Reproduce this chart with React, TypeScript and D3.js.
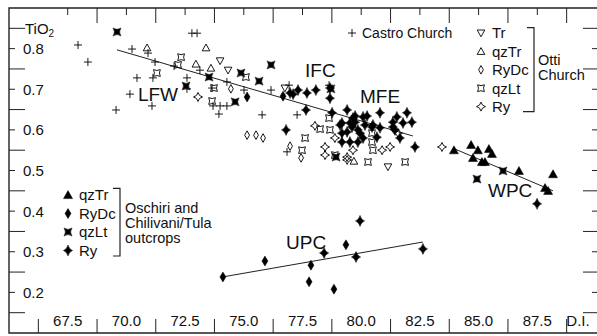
import React from "react";
import * as d3 from "d3";

const W = 597;
const H = 336;

// [D.I., TiO2] pairs
const castroChurch: [number, number][] = [
  [67.94, 0.809], [68.36, 0.767], [69.56, 0.649], [70.24, 0.799], [70.92, 0.789],
  [71.22, 0.767], [70.45, 0.728], [71.13, 0.728], [70.15, 0.688], [71.09, 0.659],
  [72.58, 0.728], [72.58, 0.701], [72.03, 0.757], [72.79, 0.838], [73.01, 0.838],
  [73.13, 0.747], [74.28, 0.718], [73.65, 0.703], [73.69, 0.659], [73.99, 0.659],
  [74.28, 0.659], [73.94, 0.639], [75.01, 0.698], [75.78, 0.637], [76.16, 0.698],
  [77.27, 0.637], [76.84, 0.546], [76.93, 0.71], [78.63, 0.71],
];

const ottiTr: [number, number][] = [
  [73.99, 0.77], [74.33, 0.747], [81.14, 0.509], [76.75, 0.703],
];
const ottiQzTr: [number, number][] = [
  [70.88, 0.802], [73.39, 0.802], [72.96, 0.762], [73.6, 0.752], [79.69, 0.523],
];
const ottiRyDc: [number, number][] = [
  [74.45, 0.701], [75.14, 0.587], [75.52, 0.587], [75.82, 0.58], [76.97, 0.56], [77.44, 0.531],
];
const ottiQzLt: [number, number][] = [
  [72.33, 0.779], [72.2, 0.76], [71.3, 0.74], [75.09, 0.73], [73.73, 0.703],
  [73.65, 0.671], [77.61, 0.58], [77.48, 0.55], [78.25, 0.602], [78.67, 0.6],
  [78.63, 0.629], [78.88, 0.538], [80.46, 0.592], [80.46, 0.57], [80.5, 0.55],
  [80.29, 0.521], [81.87, 0.521],
];
const ottiRy: [number, number][] = [
  [73.05, 0.681], [78.03, 0.61], [78.88, 0.58], [78.46, 0.558], [78.46, 0.538],
  [79.4, 0.533], [79.65, 0.55], [79.4, 0.526], [80.89, 0.55], [81.23, 0.558],
  [81.57, 0.592], [83.44, 0.558],
];

const oschQzTr: [number, number][] = [
  [83.95, 0.55], [84.68, 0.563], [84.97, 0.55], [85.44, 0.553], [85.57, 0.541],
  [84.76, 0.531], [85.14, 0.521], [85.27, 0.521], [86.72, 0.499], [88.17, 0.491],
  [87.83, 0.457], [87.96, 0.45],
];
const oschRyDc: [number, number][] = [
  [75.14, 0.681], [76.67, 0.683], [74.11, 0.238], [75.9, 0.277], [77.86, 0.267],
  [77.78, 0.226], [78.84, 0.208], [79.35, 0.317],
];
const oschQzLt: [number, number][] = [
  [69.6, 0.841], [72.54, 0.708], [73.52, 0.73], [74.88, 0.74], [76.16, 0.76],
  [75.65, 0.72], [74.63, 0.669], [78.71, 0.701], [78.93, 0.533], [86.04, 0.499],
  [84.93, 0.479],
];
const oschRy: [number, number][] = [
  [76.97, 0.691], [77.1, 0.688], [77.31, 0.698], [77.69, 0.691], [78.07, 0.698],
  [78.67, 0.703], [78.67, 0.678], [77.65, 0.649], [78.76, 0.642], [79.4, 0.649],
  [76.8, 0.6], [79.1, 0.612], [79.65, 0.629], [79.74, 0.619], [80.8, 0.642],
  [79.74, 0.634], [80.08, 0.632], [80.25, 0.634], [81.52, 0.632], [81.95, 0.642],
  [82.16, 0.619], [81.78, 0.617], [81.35, 0.619], [81.35, 0.607], [81.44, 0.6],
  [81.65, 0.58], [79.18, 0.617], [79.52, 0.617], [79.61, 0.607], [79.86, 0.6],
  [79.95, 0.592], [80.16, 0.612], [80.46, 0.607], [80.5, 0.612], [80.8, 0.605],
  [80.67, 0.582], [79.18, 0.592], [79.86, 0.57], [79.52, 0.57], [82.29, 0.558],
  [79.4, 0.595], [79.18, 0.57], [80.08, 0.58],
  [78.42, 0.297], [79.95, 0.376], [79.78, 0.287], [82.63, 0.307],
  [87.49, 0.418],
];

// trend lines
const lineLFW: [number, number][] = [[69.6, 0.797], [82.2, 0.585]];
const lineWPC: [number, number][] = [[83.99, 0.553], [88.17, 0.45]];
const lineUPC: [number, number][] = [[74.1, 0.238], [82.63, 0.324]];

const xLabels = [67.5, 70, 72.5, 75, 77.5, 80, 82.5, 85, 87.5];
const xLong = [66.25, 68.75, 71.25, 73.75, 76.25, 78.75, 81.25, 83.75, 86.25, 88.75];
const yLabels = [0.2, 0.3, 0.4, 0.5, 0.6, 0.7, 0.8];
const yLong = [0.15, 0.25, 0.35, 0.45, 0.55, 0.65, 0.75, 0.85];

const groupLabels = [
  { text: "LFW", di: 70.49, ti: 0.67 },
  { text: "IFC", di: 77.61, ti: 0.729 },
  { text: "MFE", di: 79.95, ti: 0.665 },
  { text: "WPC", di: 85.4, ti: 0.436 },
  { text: "UPC", di: 76.8, ti: 0.306 },
];

const ottiLegend = ["Tr", "qzTr", "RyDc", "qzLt", "Ry"];
const oschLegend = ["qzTr", "RyDc", "qzLt", "Ry"];

// marker shapes
const SYM = {
  plus: "M-4,0H4M0,-4V4",
  tri_down: "M-3.8,-3L3.8,-3L0,3.8Z",
  tri_up: "M-3.8,3L3.8,3L0,-3.8Z",
  diamond: "M0,-4.3L2.4,0L0,4.3L-2.4,0Z",
  cqsquare: "M-3.4,-3.4Q0,-1.6 3.4,-3.4Q1.6,0 3.4,3.4Q0,1.6 -3.4,3.4Q-1.6,0 -3.4,-3.4Z",
  star4: "M0,-4.5Q0.8,-0.8 4.5,0Q0.8,0.8 0,4.5Q-0.8,0.8 -4.5,0Q-0.8,-0.8 0,-4.5Z",
  tri_fill: "M-4.5,3.6L4.5,3.6L0,-4.4Z",
  dia_fill: "M0,-5L3,0L0,5L-3,0Z",
  xsq_fill: "M-4,-4Q0,-1.2 4,-4Q1.2,0 4,4Q0,1.2 -4,4Q-1.2,0 -4,-4Z",
  star_fill: "M0,-5.5Q1.2,-1.2 4.6,0Q1.2,1.2 0,5.5Q-1.2,1.2 -4.6,0Q-1.2,-1.2 0,-5.5Z",
};

type Key = keyof typeof SYM;
const openKeys: Key[] = ["tri_down", "tri_up", "diamond", "cqsquare", "star4"];
const fillKeys: Key[] = ["tri_fill", "dia_fill", "xsq_fill", "star_fill"];

function Marker({ k, x, y }: { k: Key; x: number; y: number }) {
  const filled = k.endsWith("fill");
  return (
    <path
      d={SYM[k]}
      transform={`translate(${x},${y})`}
      fill={filled ? "#000" : "none"}
      stroke="#000"
      strokeWidth={filled ? 0.5 : 0.9}
    />
  );
}

export default function App() {
  const x = d3.scaleLinear().domain([65, 90]).range([9, 596]);
  const y = d3.scaleLinear().domain([0.1, 0.9]).range([333, 8]);
  const line = d3
    .line<[number, number]>()
    .x((d) => x(d[0]))
    .y((d) => y(d[1]));

  const series: { k: Key; data: [number, number][] }[] = [
    { k: "plus", data: castroChurch },
    { k: "tri_down", data: ottiTr },
    { k: "tri_up", data: ottiQzTr },
    { k: "diamond", data: ottiRyDc },
    { k: "cqsquare", data: ottiQzLt },
    { k: "star4", data: ottiRy },
    { k: "tri_fill", data: oschQzTr },
    { k: "dia_fill", data: oschRyDc },
    { k: "xsq_fill", data: oschQzLt },
    { k: "star_fill", data: oschRy },
  ];

  const font = "'Liberation Sans', Arial, sans-serif";
  const left = 9;
  const top = 8;
  const bottom = 333;
  const right = 597;

  return (
    <svg
      width={W}
      height={H}
      style={{ position: "absolute", left: 0, top: 0, background: "#fff" }}
      fontFamily={font}
    >
      {/* frame */}
      <path
        d={`M${right + 2},${top}H${left}V${bottom}H${right + 2}`}
        fill="none"
        stroke="#222"
        strokeWidth={1.4}
      />
      {/* left / right ticks */}
      {yLong.map((v) => (
        <g key={"yl" + v} stroke="#222" strokeWidth={1}>
          <line x1={left} x2={left + 16} y1={y(v)} y2={y(v)} />
          <line x1={right} x2={right - 14} y1={y(v)} y2={y(v)} />
        </g>
      ))}
      {yLabels.map((v) => (
        <g key={"ys" + v}>
          <line x1={left} x2={left + 6} y1={y(v)} y2={y(v)} stroke="#222" />
          <line x1={right} x2={right - 5} y1={y(v)} y2={y(v)} stroke="#222" />
          <text x={23} y={y(v)} dy="0.36em" fontSize={15} fill="#111">
            {v.toFixed(1)}
          </text>
        </g>
      ))}
      {/* top / bottom ticks */}
      {xLong.map((v) => (
        <g key={"xl" + v} stroke="#222" strokeWidth={1}>
          {v > 67 && <line x1={x(v)} x2={x(v)} y1={top} y2={top + 15} />}
          <line x1={x(v)} x2={x(v)} y1={bottom} y2={bottom - 14} />
        </g>
      ))}
      {xLabels.map((v) => (
        <g key={"xs" + v}>
          <line x1={x(v)} x2={x(v)} y1={top} y2={top + 7} stroke="#222" />
          <text x={x(v)} y={325.5} textAnchor="middle" fontSize={15} fill="#111">
            {v.toFixed(1)}
          </text>
        </g>
      ))}
      <text x={578} y={325.5} textAnchor="middle" fontSize={15} fill="#111">
        D.I.
      </text>
      <text x={25} y={33.5} fontSize={15} fill="#111">
        TiO<tspan fontSize={10} dy={3.5}>2</tspan>
      </text>

      {/* trend lines */}
      {[lineLFW, lineWPC, lineUPC].map((l, i) => (
        <path key={"ln" + i} d={line(l) || ""} fill="none" stroke="#222" strokeWidth={1} />
      ))}

      {/* points */}
      {series.map((s) =>
        s.data.map((d, i) => (
          <Marker key={s.k + i} k={s.k} x={x(d[0])} y={y(d[1])} />
        ))
      )}

      {/* group labels */}
      {groupLabels.map((g) => (
        <text key={g.text} x={x(g.di)} y={y(g.ti)} fontSize={19} fill="#111">
          {g.text}
        </text>
      ))}

      {/* Castro Church legend */}
      <Marker k="plus" x={352} y={33} />
      <text x={362} y={33} dy="0.36em" fontSize={14} fill="#111">
        Castro Church
      </text>

      {/* Otti Church legend */}
      {ottiLegend.map((t, i) => (
        <g key={"ol" + t}>
          <Marker k={openKeys[i]} x={481} y={33 + i * 18.4} />
          <text x={492} y={33 + i * 18.4} dy="0.36em" fontSize={15} fill="#111">
            {t}
          </text>
        </g>
      ))}
      <path d="M527,27.7H534V111.7H523" fill="none" stroke="#222" strokeWidth={1.2} />
      <text x={538} y={65} fontSize={14.5} fill="#111">Otti</text>
      <text x={538} y={80} fontSize={14.5} fill="#111">Church</text>

      {/* Oschiri legend */}
      {oschLegend.map((t, i) => (
        <g key={"sl" + t}>
          <Marker k={fillKeys[i]} x={68} y={195 + i * 18.5} />
          <text x={79} y={195 + i * 18.5} dy="0.36em" fontSize={15} fill="#111">
            {t}
          </text>
        </g>
      ))}
      <path d="M113,188.3H120V256H113" fill="none" stroke="#222" strokeWidth={1.2} />
      <text x={125} y={213} fontSize={14.5} fill="#111">Oschiri and</text>
      <text x={125} y={228} fontSize={14.5} fill="#111">Chilivani/Tula</text>
      <text x={125} y={243} fontSize={14.5} fill="#111">outcrops</text>
    </svg>
  );
}
